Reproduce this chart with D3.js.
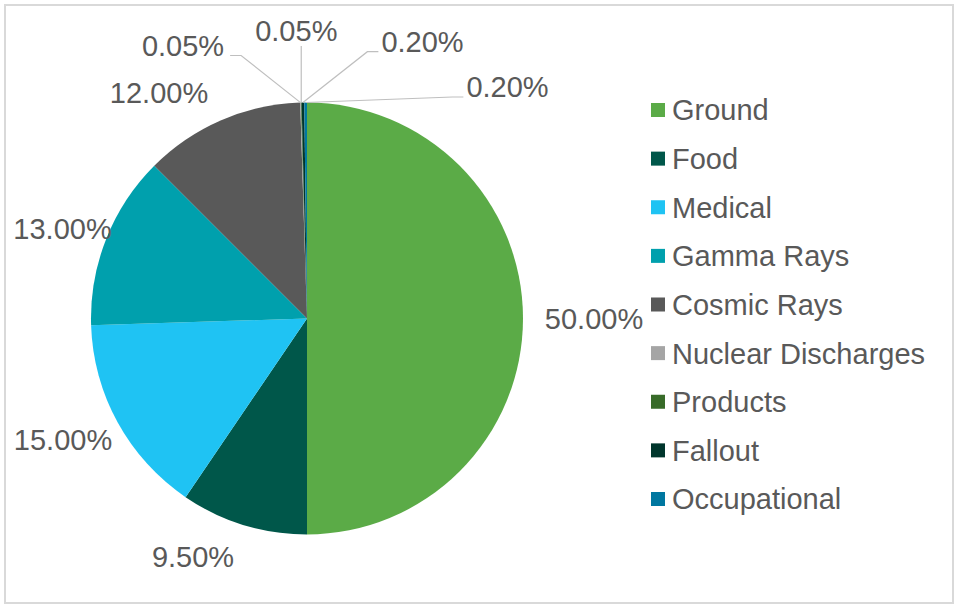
<!DOCTYPE html>
<html>
<head>
<meta charset="utf-8">
<script src="https://cdn.jsdelivr.net/npm/d3@7"></script>
<style>
  html, body { margin: 0; padding: 0; background: #fff; }
  svg { display: block; }
  text { font-family: "Liberation Sans", Arial, sans-serif; fill: #595959; }
</style>
</head>
<body>
<div id="chart"></div>
<script>
// sources of radiation exposure (percent of total)
const categories = ["Ground", "Food", "Medical", "Gamma Rays", "Cosmic Rays",
                    "Nuclear Discharges", "Products", "Fallout", "Occupational"];
const shares = [50.00, 9.50, 15.00, 13.00, 12.00, 0.05, 0.05, 0.20, 0.20];
const sliceColors = ["#5bab47", "#00574a", "#1fc3f3", "#00a0ad", "#595959",
                     "#a5a5a5", "#386b29", "#00362c", "#0077a0"];

// where Excel's "best fit" put each data label, relative to the pie centre
const labelSpots = [[287, 0.5], [-114, 238], [-244, 121.5], [-244.5, -90], [-148, -226],
                    [-124, -273], [-10.7, -287.5], [115.5, -276.8], [200.5, -231.5]];

const width = 955, height = 605;
const cx = 307, cy = 318.5, radius = 216;
const fontSize = 29;

const data = categories.map((c, i) => ({name: c, value: shares[i]}));

const svg = d3.select("#chart").append("svg")
    .attr("width", width)
    .attr("height", height);

svg.append("rect")
    .attr("x", 5).attr("y", 5)
    .attr("width", 948).attr("height", 598)
    .attr("fill", "#fff")
    .attr("stroke", "#d9d9d9")
    .attr("stroke-width", 2);

const color = d3.scaleOrdinal().domain(categories).range(sliceColors);

const pie = d3.pie().sort(null).value(d => d.value);
const arc = d3.arc().innerRadius(0).outerRadius(radius);
const arcs = pie(data);

const g = svg.append("g").attr("transform", `translate(${cx},${cy})`);

g.selectAll("path.slice")
    .data(arcs)
    .join("path")
    .attr("class", "slice")
    .attr("d", arc)
    .attr("fill", d => color(d.data.name));

// labels
const fmt = d => d3.format(".2f")(d) + "%";
const labels = g.selectAll("text.lbl")
    .data(arcs)
    .join("text")
    .attr("class", "lbl")
    .attr("x", (d, i) => labelSpots[i][0])
    .attr("y", (d, i) => labelSpots[i][1])
    .attr("dy", "0.36em")
    .attr("text-anchor", "middle")
    .style("font-size", fontSize + "px")
    .text(d => fmt(d.data.value));

// leader lines for the tiny slices
const leaders = [];
labels.each(function(d, i) {
    if (d.data.value >= 1) return;
    const w = this.getComputedTextLength();
    const mid = (d.startAngle + d.endAngle) / 2;
    const start = [Math.sin(mid) * radius, -Math.cos(mid) * radius];
    const [lx, ly] = labelSpots[i];
    const bottom = ly + 10;
    let end, knee;
    if (lx + w / 2 < start[0] - 10) {
        end = [lx + w / 2 + 6, bottom];
        knee = [end[0] + 11, bottom];
    } else if (lx - w / 2 > start[0] + 10) {
        end = [lx - w / 2 - 3, bottom];
        knee = [end[0] - 11, bottom];
    } else {
        end = [start[0], bottom + 5];
        knee = end;
    }
    leaders.push([end, knee, start]);
});

g.selectAll("path.leader")
    .data(leaders)
    .join("path")
    .attr("class", "leader")
    .attr("d", d3.line())
    .attr("fill", "none")
    .attr("stroke", "#bfbfbf")
    .attr("stroke-width", 1.2);

// legend
const legY = d3.scalePoint().domain(categories).range([110, 499]);
const legend = svg.append("g").selectAll("g")
    .data(categories)
    .join("g")
    .attr("transform", d => `translate(651,${legY(d)})`);

legend.append("rect")
    .attr("x", 0).attr("y", -7)
    .attr("width", 14).attr("height", 14)
    .attr("fill", d => color(d));

legend.append("text")
    .attr("x", 21)
    .attr("dy", "0.36em")
    .style("font-size", fontSize + "px")
    .text(d => d);
</script>
</body>
</html>
